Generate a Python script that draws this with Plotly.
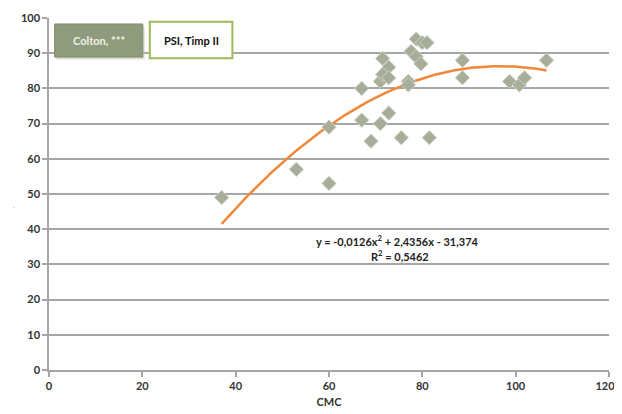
import numpy as np
import plotly.graph_objects as go

# Data
cmc = [37, 53, 60, 60, 67, 67, 69, 71, 71, 71.5, 72.8, 71.5, 72.8, 72.8, 75.5,
       77, 77, 78.7, 80, 81, 77.6, 78.7, 79.7, 81.5, 88.6, 88.6, 98.7, 100.8, 101.9, 106.6]
val = [49, 57, 69, 53, 80, 71, 65, 70, 82, 88.5, 86, 84, 83, 73, 66,
       82, 81, 94, 93, 93, 90.5, 89, 87, 66, 88, 83, 82, 81, 83, 88]

# Polynomial trendline coefficients as printed on the chart
trend_a, trend_b, trend_c = -0.0126, 2.4356, -31.374
eq_text = "y = -0,0126x<sup>2</sup> + 2,4356x - 31,374"
r2_text = "R<sup>2</sup> = 0,5462"
x_ticks = [0, 20, 40, 60, 80, 100, 120]
x_tick_labels = ["0", "20", "40", "60", "80", "100", "120\u00a0\u00a0\u00a0"]
y_ticks = [0, 10, 20, 30, 40, 50, 60, 70, 80, 90, 100]

tx = np.linspace(min(cmc), max(cmc), 200)
ty = trend_a * tx**2 + trend_b * tx + trend_c

FONT = "Lato"
fig = go.Figure()
fig.add_trace(go.Scatter(
    x=tx, y=ty, mode="lines",
    line=dict(color="#f0883a", width=2.5), hoverinfo="skip", showlegend=False))
fig.add_trace(go.Scatter(
    x=cmc, y=val, mode="markers",
    marker=dict(symbol="diamond", size=11, color="#a6ad98",
                line=dict(color="#cdd1c4", width=1)),
    showlegend=False))

# Legend-like boxes
fig.add_shape(type="rect", x0=1.6, x1=20.5, y0=88.2, y1=97.6, xref="x", yref="y",
              fillcolor="#c8ccc0", line=dict(width=0), opacity=0.6, layer="above")
fig.add_shape(type="rect", x0=1.2, x1=20.1, y0=88.9, y1=98.3, xref="x", yref="y",
              fillcolor="#8e9b7d", line=dict(color="#7f8c6e", width=1), layer="above")
fig.add_annotation(x=10.65, y=93.6, xref="x", yref="y", text="Colton, ***",
                   showarrow=False, font=dict(family=FONT, size=11, color="#eef1e6", weight="bold"))
fig.add_shape(type="rect", x0=21.6, x1=39.3, y0=88.6, y1=98.9, xref="x", yref="y",
              fillcolor="white", line=dict(color="#9bbb59", width=2), layer="above")
fig.add_annotation(x=30.45, y=93.75, xref="x", yref="y", text="PSI, Timp II",
                   showarrow=False, font=dict(family=FONT, size=11, color="#111111", weight="bold"))

# Trendline equation
fig.add_annotation(x=74.7, y=36.9, xref="x", yref="y", text=eq_text, showarrow=False,
                   font=dict(family=FONT, size=11, color="#222222", weight="bold"))
fig.add_annotation(x=75.2, y=32.4, xref="x", yref="y", text=r2_text, showarrow=False,
                   font=dict(family=FONT, size=11, color="#222222", weight="bold"))
# tiny y-axis title mark
fig.add_annotation(x=-0.068, y=0.47, xref="paper", yref="paper", text=".", showarrow=False,
                   font=dict(size=8, color="#999999"))

fig.update_layout(
    width=614, height=406,
    margin=dict(l=41, r=13, t=10, b=44),
    paper_bgcolor="white", plot_bgcolor="white",
    font=dict(family=FONT, size=11, color="#333333"),
    xaxis=dict(range=[0, 120], tickvals=x_ticks, ticktext=x_tick_labels,
               showgrid=False, zeroline=False,
               automargin=False, ticklabeloverflow="allow",
               showline=True, linecolor="#a6a6a6", linewidth=1.5,
               ticks="outside", ticklen=5, tickcolor="#a6a6a6", tickwidth=1.5,
               tickfont=dict(family=FONT, size=11, color="#333333", weight="bold"),
               title=dict(text="CMC", standoff=7,
                          font=dict(family=FONT, size=11, color="#333333", weight="bold"))),
    yaxis=dict(range=[0, 100], tickvals=y_ticks, showgrid=True, gridcolor="#a6a6a6",
               automargin=False, ticklabeloverflow="allow",
               gridwidth=1.5, zeroline=False, showline=True, linecolor="#a6a6a6",
               linewidth=1.5, ticks="outside", ticklen=5, tickcolor="#a6a6a6", tickwidth=1.5,
               tickfont=dict(family=FONT, size=11, color="#333333", weight="bold")),
)

fig.write_html("out.html")
